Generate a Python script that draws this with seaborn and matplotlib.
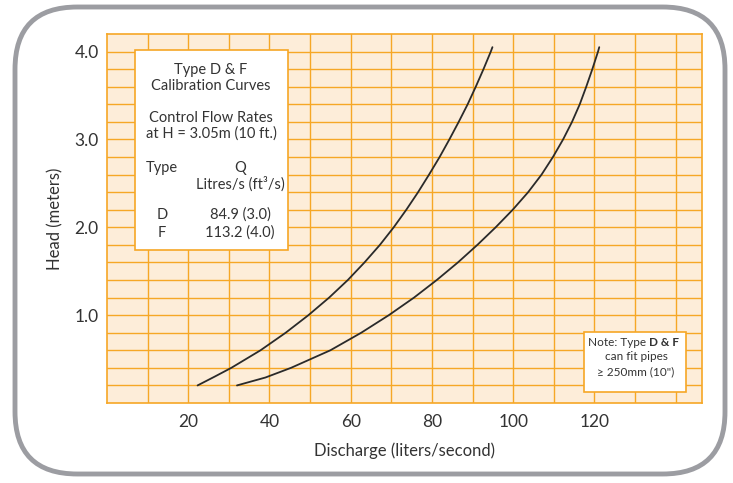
import numpy as np
import pandas as pd
import seaborn as sns
import matplotlib.pyplot as plt
from matplotlib.patches import FancyBboxPatch, Rectangle

# curve values (discharge l/s, head m)
d_flow = [22.3, 26.5, 30.6, 37.8, 44.0, 49.6, 54.7, 59.3, 63.4, 67.2, 70.6, 73.7, 76.6, 79.3, 81.9,
          84.3, 86.6, 88.8, 90.8, 92.7, 94.5, 94.9]
d_head = [0.20, 0.30, 0.40, 0.60, 0.80, 1.00, 1.20, 1.40, 1.60, 1.80, 2.00, 2.20, 2.40, 2.60, 2.80,
          3.00, 3.20, 3.40, 3.60, 3.80, 4.00, 4.05]
f_flow = [32.0, 39.0, 45.3, 55.0, 62.6, 69.4, 75.6, 81.2, 86.4, 91.2, 95.7, 99.9, 103.7, 107.0, 109.8,
          112.3, 114.5, 116.4, 118.0, 119.5, 120.9, 121.2]
f_head = [0.20, 0.29, 0.40, 0.60, 0.80, 1.00, 1.20, 1.40, 1.60, 1.80, 2.00, 2.20, 2.40, 2.60, 2.80,
          3.00, 3.20, 3.40, 3.60, 3.80, 4.00, 4.05]

x_ticks = [20, 40, 60, 80, 100, 120]
y_ticks = [1.0, 2.0, 3.0, 4.0]

W, H = 733, 483
ORANGE = '#F6A726'
PEACH = '#FDEDD9'
INK = '#2a2a2a'

sns.set_style('white')
plt.rcParams['font.family'] = ['Lato', 'DejaVu Sans']


def fx(x):
    return x / W


def fy(y):
    return 1 - y / H


fig = plt.figure(figsize=(W / 100, H / 100), dpi=100)
ax = fig.add_axes([fx(107), fy(403), fx(702) - fx(107), fy(34) - fy(403)])
ax.set_facecolor(PEACH)

for v in range(10, 150, 10):
    ax.axvline(v, color=ORANGE, lw=1.0, zorder=1)
for h in np.arange(0.2, 4.2, 0.2):
    ax.axhline(h, color=ORANGE, lw=1.0, zorder=1)

df = pd.concat([
    pd.DataFrame({'Discharge': d_flow, 'Head': d_head, 'Type': 'D'}),
    pd.DataFrame({'Discharge': f_flow, 'Head': f_head, 'Type': 'F'}),
])
sns.lineplot(data=df, x='Discharge', y='Head', units='Type', estimator=None,
             sort=False, color=INK, lw=1.3, ax=ax, zorder=3)

ax.set_xlim(0, 146.5)
ax.set_ylim(0, 4.2)
ax.set_xticks(x_ticks)
ax.set_xticklabels([str(t) for t in x_ticks])
ax.set_yticks(y_ticks)
ax.set_yticklabels(['%.1f' % t for t in y_ticks])
ax.tick_params(length=0, labelsize=12.5, colors='#333333')
ax.tick_params(axis='x', pad=8)
ax.tick_params(axis='y', pad=6)
for s in ax.spines.values():
    s.set_color(ORANGE)
    s.set_linewidth(1.2)
ax.set_xlabel('Discharge (liters/second)', fontsize=12, color='#333333', labelpad=9)
ax.set_ylabel('Head (meters)', fontsize=12, color='#333333', labelpad=8)

# calibration info box
fig.patches.append(Rectangle((fx(135), fy(250)), fx(288) - fx(135), fy(50) - fy(250),
                             transform=fig.transFigure, facecolor='white',
                             edgecolor=ORANGE, lw=1.2, zorder=5))
tk = dict(fontsize=10.5, color='#333333', ha='center', va='center', zorder=6)
fig.text(fx(211), fy(70), 'Type D & F', **tk)
fig.text(fx(211), fy(86), 'Calibration Curves', **tk)
fig.text(fx(211), fy(118), 'Control Flow Rates', **tk)
fig.text(fx(211), fy(134), 'at H = 3.05m (10 ft.)', **tk)
fig.text(fx(162), fy(168), 'Type', **tk)
fig.text(fx(240), fy(168), 'Q', **tk)
fig.text(fx(240), fy(184), 'Litres/s (ft\u00b3/s)', **tk)
fig.text(fx(162), fy(215), 'D', **tk)
fig.text(fx(240), fy(215), '84.9 (3.0)', **tk)
fig.text(fx(162), fy(233), 'F', **tk)
fig.text(fx(240), fy(233), '113.2 (4.0)', **tk)

# note box
fig.patches.append(Rectangle((fx(584), fy(392)), fx(686) - fx(584), fy(332) - fy(392),
                             transform=fig.transFigure, facecolor='white',
                             edgecolor=ORANGE, lw=1.2, zorder=5))
nk = dict(fontsize=8.5, color='#333333', va='center', zorder=6)
fig.text(fx(646), fy(342), 'Note: Type', ha='right', **nk)
fig.text(fx(649), fy(342), 'D & F', ha='left', fontweight='bold', **nk)
fig.text(fx(636), fy(357), 'can fit pipes', ha='center', **nk)
fig.text(fx(636), fy(372), '\u2265 250mm (10")', ha='center', **nk)

# rounded outer frame
fig.patches.append(FancyBboxPatch((fx(15), fy(474)), fx(725) - fx(15), fy(7) - fy(474),
                                  boxstyle='round,pad=0,rounding_size=0.085',
                                  transform=fig.transFigure, facecolor='none',
                                  edgecolor='#9C9DA2', lw=3.5, zorder=0,
                                  mutation_aspect=W / H))

fig.savefig('out.png', dpi=100)
